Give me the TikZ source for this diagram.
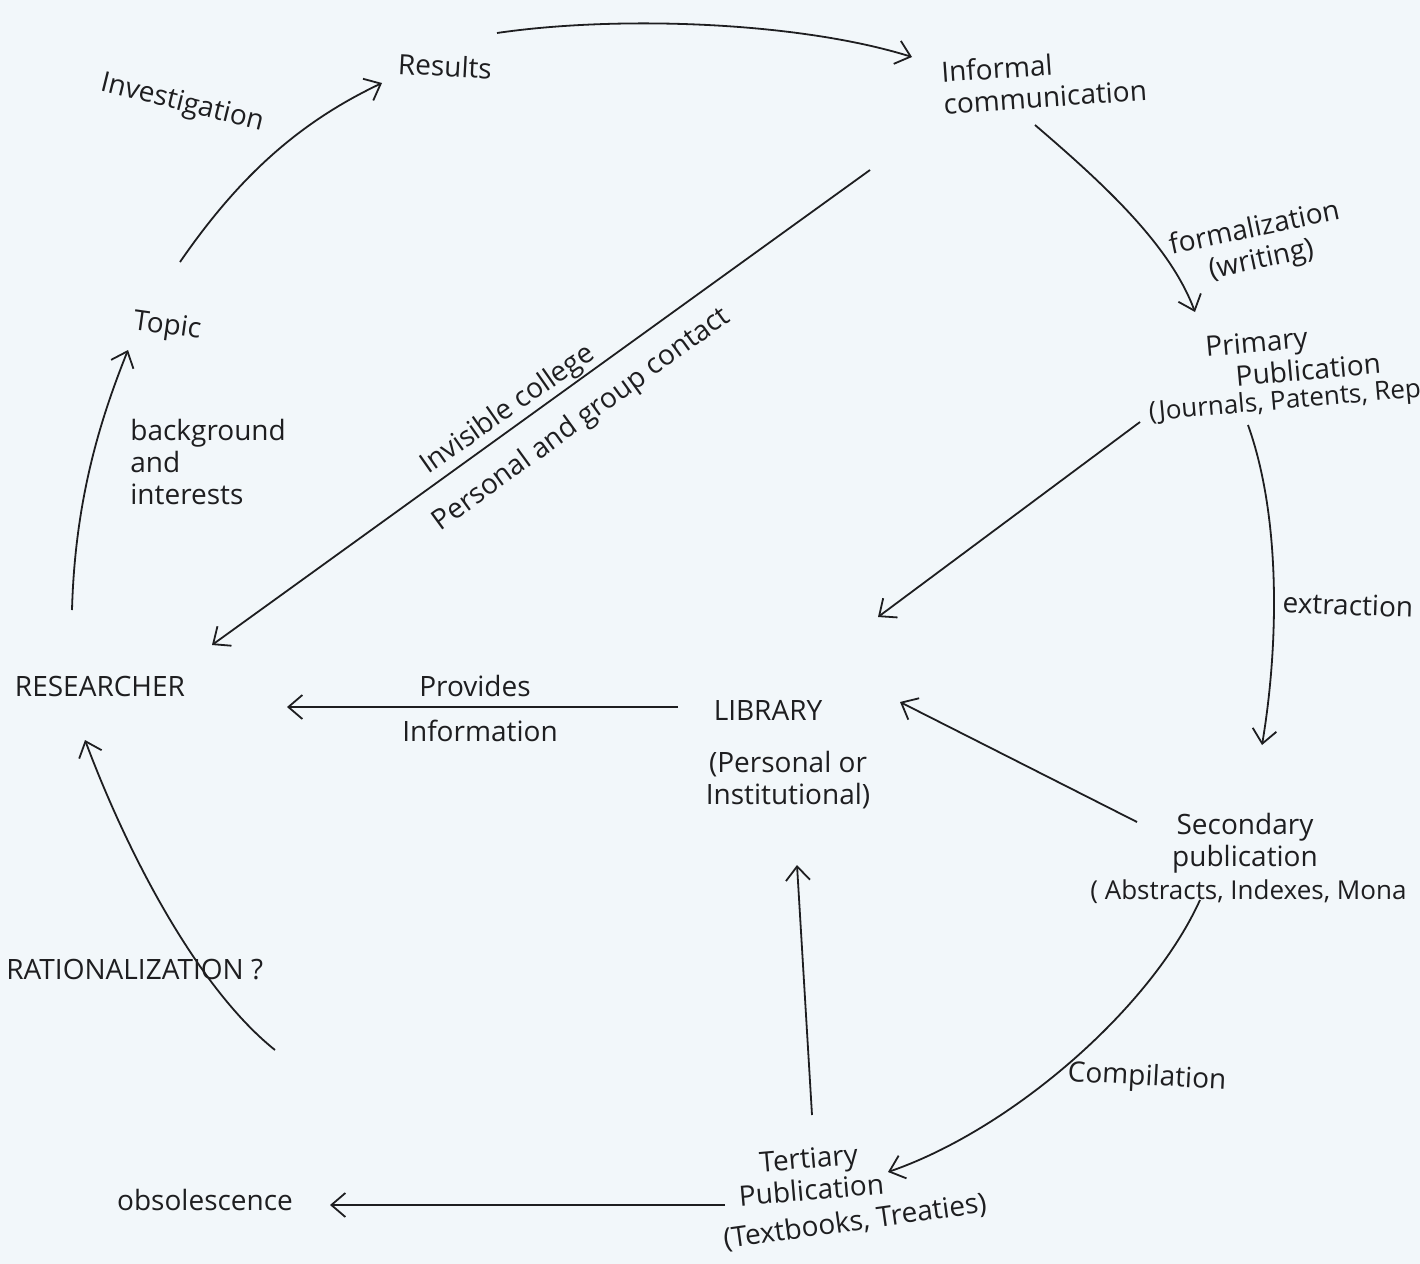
\documentclass[tikz,border=0pt]{standalone}
\usepackage{fontspec}
\setmainfont{Open Sans}
\usetikzlibrary{arrows.meta}
\definecolor{paper}{RGB}{242,247,250}
\definecolor{ink}{RGB}{30,30,32}
\tikzset{
  lbl/.style={font=\fontsize{14}{16}\selectfont, text=ink, inner sep=1pt, align=center},
  conn/.style={draw=ink, line width=0.9pt, -{Straight Barb[length=7pt,width=12pt,line width=0.9pt]}}
}
\begin{document}
\begin{tikzpicture}[x=0.5pt,y=-0.5pt]
\fill[paper] (0,0) rectangle (1420,1264);
\useasboundingbox (0,0) rectangle (1420,1264);

% labels
\node[lbl, rotate=-3] (results) at (445,66) {Results};
\node[lbl, align=left, anchor=west, rotate=4] (informal) at (940,88) {Informal\\communication};
\node[lbl, rotate=12] (formal) at (1258,245) {formalization\\(writing)};
\node[lbl, rotate=5] (primary) at (1258,358) {Primary\\\hspace*{3.5em}Publication};
\node[lbl, rotate=5, font=\fontsize{13}{15}\selectfont] (primaryx) at (1285,402) {(Journals, Patents, Rep};
\node[lbl, rotate=-2] (extraction) at (1348,605) {extraction};
\node[lbl] (secondary) at (1245,843) {Secondary\\publication};
\node[lbl, anchor=west, font=\fontsize{13}{15}\selectfont] (secondaryx) at (1088,892) {( Abstracts, Indexes, Mona};
\node[lbl, rotate=-3] (compilation) at (1147,1078) {Compilation};
\node[lbl, rotate=5] (tertiary) at (810,1174) {Tertiary\\Publication};
\node[lbl, rotate=8] (tertiaryx) at (855,1222) {(Textbooks, Treaties)};
\node[lbl] (obsol) at (205,1200) {obsolescence};
\node[lbl, anchor=west] (ration) at (4,970) {RATIONALIZATION ?};
\node[lbl] (researcher) at (100,686) {RESEARCHER};
\node[lbl, rotate=-8] (topic) at (167,327) {Topic};
\node[lbl, align=left, anchor=west] (backgr) at (128,462) {background\\and\\interests};
\node[lbl, rotate=-14] (invest) at (182,104) {Investigation};
\node[lbl] (library) at (768,710) {LIBRARY};
\node[lbl] (libraryx) at (788,780) {(Personal or\\Institutional)};
\node[lbl] (provides) at (475,686) {Provides};
\node[lbl] (information) at (480,731) {Information};
\node[lbl, rotate=35] (invisible) at (508,410) {Invisible college};
\node[lbl, rotate=36] (personal) at (582,420) {Personal and group contact};

% connector ends
\coordinate (a1) at (180,262); \coordinate (b1) at (382,83);
\coordinate (a2) at (497,33);  \coordinate (b2) at (912,57);
\coordinate (a3) at (1035,125); \coordinate (b3) at (1195,312);
\coordinate (a4) at (1248,425); \coordinate (b4) at (1262,745);
\coordinate (a5) at (1200,900); \coordinate (b5) at (888,1172);
\coordinate (a6) at (725,1205); \coordinate (b6) at (330,1205);
\coordinate (a7) at (812,1115); \coordinate (b7) at (797,865);
\coordinate (a8) at (1137,822); \coordinate (b8) at (900,702);
\coordinate (a9) at (1140,422); \coordinate (b9) at (878,617);
\coordinate (a10) at (678,707); \coordinate (b10) at (287,707);
\coordinate (a11) at (870,170); \coordinate (b11) at (212,645);
\coordinate (a12) at (72,610); \coordinate (b12) at (128,350);
\coordinate (a13) at (275,1050); \coordinate (b13) at (85,740);

% connectors
\draw[conn] (a1) .. controls (240,175) and (300,122) .. (b1);
\draw[conn] (a2) .. controls (620,15) and (800,22) .. (b2);
\draw[conn] (a3) .. controls (1105,185) and (1170,245) .. (b3);
\draw[conn] (a4) .. controls (1282,520) and (1278,650) .. (b4);
\draw[conn] (a5) .. controls (1150,1010) and (1010,1130) .. (b5);
\draw[conn] (a6) -- (b6);
\draw[conn] (a7) -- (b7);
\draw[conn] (a8) -- (b8);
\draw[conn] (a9) -- (b9);
\draw[conn] (a10) -- (b10);
\draw[conn] (a11) -- (b11);
\draw[conn] (a12) .. controls (75,500) and (100,420) .. (b12);
\draw[conn] (a13) .. controls (200,990) and (130,860) .. (b13);
\end{tikzpicture}
\end{document}
